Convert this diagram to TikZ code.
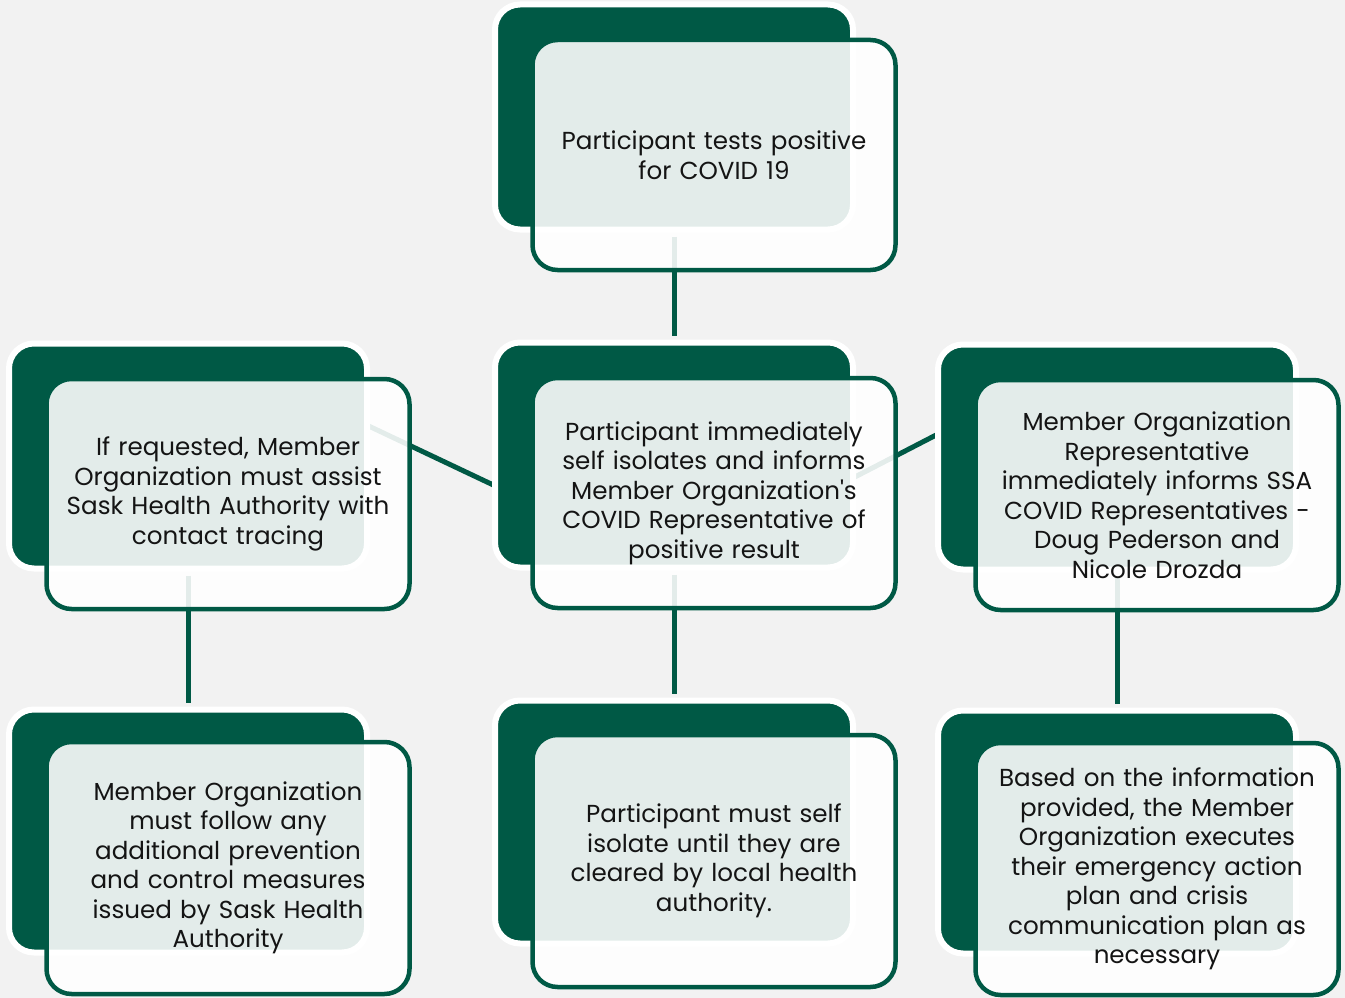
\documentclass[tikz,border=0pt]{standalone}
\usepackage{fontspec}
\setmainfont{Poppins}[Ligatures=TeXOff]
\usetikzlibrary{calc,positioning}
\definecolor{dkgreen}{RGB}{0,89,69}
\definecolor{pagegrey}{RGB}{242,242,242}
\pgfdeclarelayer{bg}
\pgfdeclarelayer{conn}
\pgfsetlayers{bg,conn,main}
\tikzset{
    backbox/.style={fill=dkgreen, draw=white, line width=6pt, rounded corners=25pt,
        minimum width=358pt, minimum height=225pt, inner sep=0pt},
    frontbox/.style={draw=dkgreen, line width=4.5pt, fill=white, fill opacity=0.89,
        text opacity=1, rounded corners=25pt, minimum width=363pt, minimum height=230pt,
        inner sep=0pt, text width=358pt, align=center,
        font=\fontsize{24.6}{29.5}\selectfont, text=black!92},
    tallback/.style={minimum height=243pt},
    tallfront/.style={minimum height=252pt},
    link/.style={draw=dkgreen, line width=5pt, shorten <=4pt, shorten >=4pt},
    slant/.style={shorten <=10pt, shorten >=10pt},
}

\begin{document}
\begin{tikzpicture}[x=1pt,y=-1pt]
    \begin{pgfonlayer}{bg}
        \fill[pagegrey] (0,0) rectangle (1345,998);
    \end{pgfonlayer}
    \useasboundingbox (0,0) rectangle (1345,998);
    % dark back blocks
    \node[backbox] (tb) at (674,117) {};
    \node[backbox] (lb) at (188,456) {};
    \node[backbox] (cb) at (674,455) {};
    \node[backbox] (rb) at (1117,457) {};
    \node[backbox,tallback] (blb) at (188,831) {};
    \node[backbox,tallback] (bcb) at (674,822) {};
    \node[backbox,tallback] (brb) at (1117,832) {};
    % front blocks with text
    \node[frontbox] (tf) at ($(tb.center)+(40,38)$)
        {Participant tests positive\\for COVID 19};
    \node[frontbox] (lf) at ($(lb.center)+(40,38)$)
        {If requested, Member\\Organization must assist\\Sask Health Authority with\\contact tracing};
    \node[frontbox] (cf) at ($(cb.center)+(40,38)$)
        {Participant immediately\\self isolates and informs\\Member Organization's\\COVID Representative of\\positive result};
    \node[frontbox] (rf) at ($(rb.center)+(40,38)$)
        {Member Organization\\Representative\\immediately informs SSA\\COVID Representatives -\\Doug Pederson and\\Nicole Drozda};
    \node[frontbox,tallfront] (blf) at ($(blb.center)+(40,37)$)
        {Member Organization\\must follow any\\additional prevention\\and control measures\\issued by Sask Health\\Authority};
    \node[frontbox,tallfront] (bcf) at ($(bcb.center)+(40,39)$)
        {Participant must self\\isolate until they are\\cleared by local health\\authority.};
    \node[frontbox,tallfront] (brf) at ($(brb.center)+(40,37)$)
        {Based on the information\\provided, the Member\\Organization executes\\their emergency action\\plan and crisis\\communication plan as\\necessary};
    % connectors behind the blocks
    \begin{pgfonlayer}{conn}
        \draw[link] (tb.south) -- (cb.north);
        \draw[link,slant] (cb.south) -- (lb.north);
        \draw[link,slant] (cb.south) -- (rb.north);
        \draw[link] (cb.south) -- (bcb.north);
        \draw[link] (lb.south) -- (blb.north);
        \draw[link] (rb.south) -- (brb.north);
    \end{pgfonlayer}
\end{tikzpicture}
\end{document}
